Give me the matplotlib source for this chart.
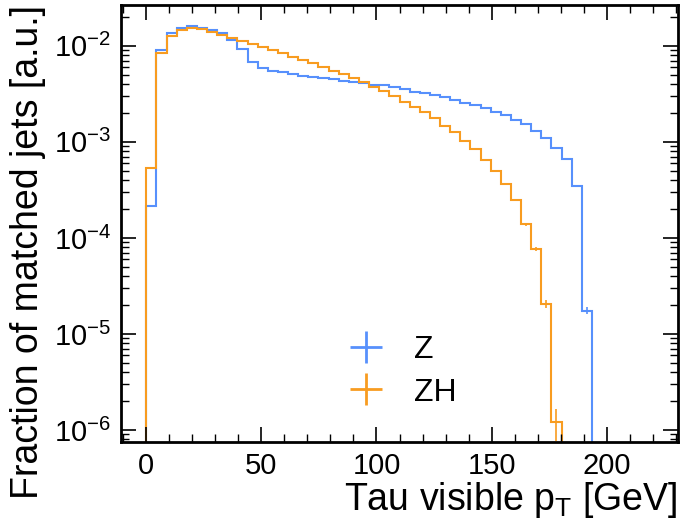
import numpy as np
import matplotlib
matplotlib.use("Agg")
import matplotlib.pyplot as plt

# ---- data ----
bin_edges = np.linspace(0, 220, 51)  # 50 bins of 4.4 GeV

z_values = [2.15e-4, 9.0e-3, 1.35e-2, 1.55e-2, 1.62e-2, 1.55e-2, 1.46e-2, 1.37e-2,
            1.15e-2, 9.2e-3, 6.8e-3, 5.82e-3, 5.5e-3, 5.28e-3, 5.07e-3, 4.87e-3,
            4.72e-3, 4.6e-3, 4.47e-3, 4.33e-3, 4.2e-3, 4.07e-3, 3.95e-3, 3.87e-3,
            3.69e-3, 3.52e-3, 3.33e-3, 3.2e-3, 3.07e-3, 2.92e-3, 2.72e-3, 2.57e-3,
            2.41e-3, 2.23e-3, 2.06e-3, 1.9e-3, 1.69e-3, 1.52e-3, 1.31e-3, 1.11e-3,
            8.7e-4, 6.6e-4, 3.47e-4, 1.75e-5]

zh_values = [5.33e-4, 8.5e-3, 1.27e-2, 1.45e-2, 1.54e-2, 1.50e-2, 1.40e-2, 1.31e-2,
             1.21e-2, 1.13e-2, 1.05e-2, 9.77e-3, 9.0e-3, 8.34e-3, 7.7e-3, 7.1e-3,
             6.56e-3, 6.06e-3, 5.5e-3, 5.07e-3, 4.58e-3, 4.17e-3, 3.75e-3, 3.36e-3,
             3.02e-3, 2.59e-3, 2.32e-3, 2.03e-3, 1.76e-3, 1.47e-3, 1.26e-3, 1.03e-3,
             8.4e-4, 6.5e-4, 5.0e-4, 3.63e-4, 2.47e-4, 1.39e-4, 7.6e-5, 2.05e-5,
             1.21e-6]

# per-entry weight estimated from visible error-bar sizes (Poisson errors)
z_entry_weight = 1.12e-7
zh_entry_weight = 1.65e-7

labels = ["Z", "ZH"]
colors = ["#5790fc", "#f89c20"]

x_ticks = [0, 50, 100, 150, 200]

# ---- style ----
plt.rcParams["font.family"] = ["Liberation Sans", "DejaVu Sans"]
plt.rcParams["mathtext.fontset"] = "custom"
plt.rcParams["mathtext.rm"] = "Liberation Sans"
plt.rcParams["mathtext.it"] = "Liberation Sans:italic"
plt.rcParams["mathtext.bf"] = "Liberation Sans:bold"

fig = plt.figure(figsize=(6.8, 5.2), dpi=100)
ax = fig.add_axes([0.178, 0.150, 0.819, 0.840])

handles = []
for vals, w, col, lab in [(z_values, z_entry_weight, colors[0], labels[0]),
                          (zh_values, zh_entry_weight, colors[1], labels[1])]:
    vals = np.asarray(vals)
    n = len(vals)
    edges = bin_edges[: n + 1]
    ax.stairs(vals, edges, baseline=0, color=col, lw=1.5)
    centers = 0.5 * (edges[1:] + edges[:-1])
    yerr = np.sqrt(vals * w)
    ax.errorbar(centers, vals, yerr=yerr, ls="none", color=col, lw=1.2)
    h = ax.errorbar([], [], xerr=[], yerr=[], ls="none", color=col, lw=2, label=lab)
    handles.append(h)

ax.set_yscale("log")
ax.set_xlim(-11, 231)
ax.set_ylim(7.5e-7, 2.65e-2)
ax.set_xticks(x_ticks)
ax.xaxis.set_minor_locator(matplotlib.ticker.MultipleLocator(10))
ax.yaxis.set_minor_locator(matplotlib.ticker.LogLocator(base=10, subs=np.arange(2, 10), numticks=20))
ax.yaxis.set_minor_formatter(matplotlib.ticker.NullFormatter())

ax.tick_params(which="both", direction="in", top=True, right=True)
ax.tick_params(which="major", length=11, width=1.2, labelsize=21, pad=7)
ax.tick_params(which="minor", length=6, width=1.0)
for s in ax.spines.values():
    s.set_linewidth(2)

ax.set_xlabel(r"Tau visible p$_\mathrm{T}$ [GeV]", fontsize=27, loc="right", labelpad=0)
ax.set_ylabel("Fraction of matched jets [a.u.]", fontsize=27, loc="top", labelpad=6)

ax.legend(handles=handles, labels=labels, loc="center left",
          bbox_to_anchor=(0.397, 0.162), frameon=False, fontsize=23,
          borderpad=0, borderaxespad=0, handlelength=1.5, handletextpad=0.75,
          labelspacing=0.4)

fig.savefig("out.png", dpi=100)
